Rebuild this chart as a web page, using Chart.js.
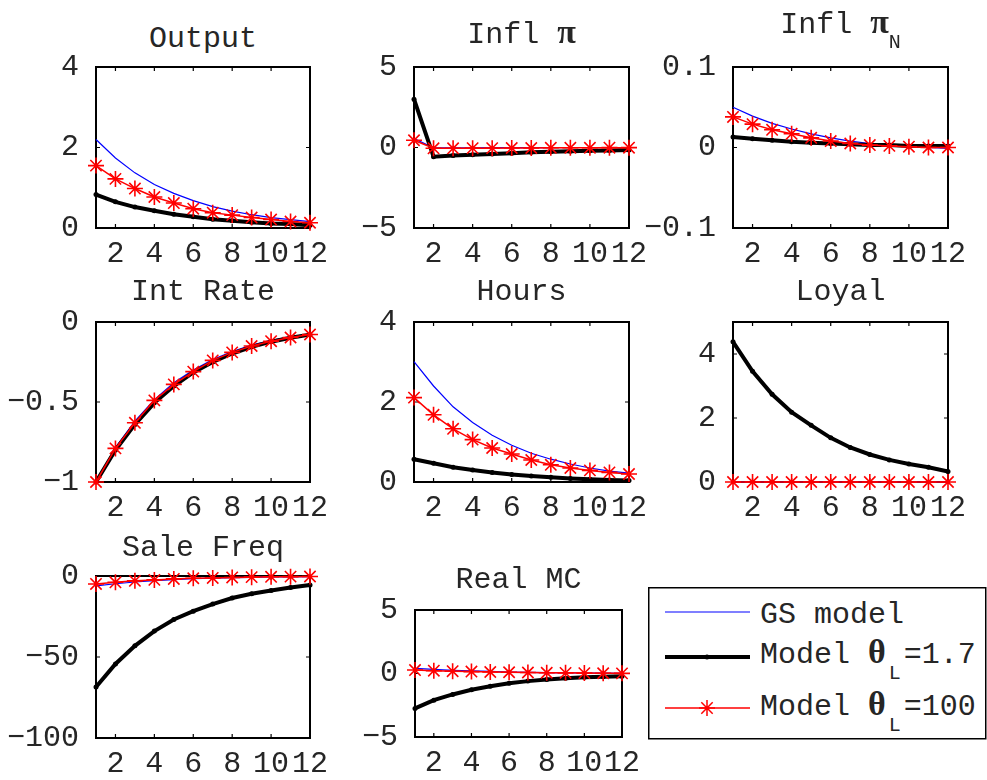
<!DOCTYPE html>
<html>
<head>
<meta charset="utf-8">
<script src="https://cdn.jsdelivr.net/npm/chart.js@4"></script>
<style>
  body { margin: 0; background: #fff; }
  #wrap { position: relative; width: 987px; height: 780px; overflow: hidden;
          font-family: 'Liberation Mono', monospace; color: #262626; }
  canvas { position: absolute; }
  .ttl { position: absolute; width: 400px; text-align: center; font-size: 30px;
         line-height: 30px; white-space: pre; }
  .gk { font-family: 'Liberation Serif', serif; font-weight: bold; font-size: 34px; }
  .sub { font-size: 20px; position: relative; top: 15px; }
  #legend { position: absolute; left: 648px; top: 587px; }
</style>
</head>
<body>
<div id="wrap">
  <svg id="legend" width="339" height="160">
    <rect x="0.75" y="0.75" width="337" height="151" fill="#fff" stroke="#000" stroke-width="1.5"/>
    <line x1="17" y1="25" x2="102" y2="25" stroke="#0000ff" stroke-width="1.2"/>
    <line x1="17" y1="70" x2="102" y2="70" stroke="#000" stroke-width="4"/>
    <circle cx="59" cy="70" r="2.5" fill="#000"/>
    <line x1="17" y1="121" x2="102" y2="121" stroke="#ff0000" stroke-width="1.5"/>
    <path d="M59 113V129M51 121H67M53.3 115.3L64.7 126.7M53.3 126.7L64.7 115.3" stroke="#ff0000" stroke-width="1.5"/>
    <g font-family="Liberation Mono, monospace" font-size="30" fill="#262626" style="white-space:pre">
      <text x="112" y="36">GS model</text>
      <text x="112" y="76">Model <tspan font-family="Liberation Serif, serif" font-weight="bold" font-size="34">θ</tspan><tspan font-size="20" dy="16" dx="3">L</tspan><tspan dy="-16" dx="3">=1.7</tspan></text>
      <text x="112" y="128">Model <tspan font-family="Liberation Serif, serif" font-weight="bold" font-size="34">θ</tspan><tspan font-size="20" dy="16" dx="3">L</tspan><tspan dy="-16" dx="3">=100</tspan></text>
    </g>
  </svg>
</div>
<script>
// horizon and ticks
const steps = [1, 2, 3, 4, 5, 6, 7, 8, 9, 10, 11, 12];
const xTicks = [2, 4, 6, 8, 10, 12];

// GS model / Model thetaL=1.7 / Model thetaL=100
const gsOutput   = [2.20, 1.74, 1.37, 1.08, 0.86, 0.68, 0.53, 0.42, 0.33, 0.26, 0.21, 0.16];
const m17Output  = [0.83, 0.65, 0.52, 0.43, 0.34, 0.28, 0.22, 0.18, 0.14, 0.11, 0.10, 0.07];
const m100Output = [1.55, 1.22, 0.98, 0.77, 0.62, 0.48, 0.38, 0.32, 0.26, 0.21, 0.16, 0.13];

const gsInfl   = [0.55, -0.02, -0.02, -0.02, -0.01, -0.01, -0.01, -0.01, 0, 0, 0, 0];
const m17Infl  = [3.0, -0.57, -0.50, -0.45, -0.40, -0.35, -0.30, -0.27, -0.23, -0.20, -0.18, -0.15];
const m100Infl = [0.45, -0.05, -0.05, -0.04, -0.04, -0.03, -0.03, -0.02, -0.02, -0.02, -0.01, -0.01];

const gsInflN   = [0.050, 0.039, 0.030, 0.023, 0.017, 0.012, 0.008, 0.005, 0.003, 0.001, 0.000, -0.001];
const m17InflN  = [0.013, 0.011, 0.009, 0.007, 0.006, 0.005, 0.004, 0.003, 0.003, 0.002, 0.002, 0.002];
const m100InflN = [0.038, 0.029, 0.022, 0.017, 0.012, 0.008, 0.005, 0.003, 0.002, 0.001, 0.000, 0.000];

const gsRate   = [-1, -0.785, -0.62, -0.485, -0.38, -0.30, -0.235, -0.185, -0.145, -0.115, -0.092, -0.074];
const m17Rate  = [-1, -0.80, -0.64, -0.505, -0.40, -0.315, -0.25, -0.197, -0.155, -0.123, -0.098, -0.079];
const m100Rate = [-1, -0.79, -0.63, -0.49, -0.39, -0.31, -0.24, -0.19, -0.15, -0.12, -0.097, -0.078];

const gsHours   = [3.01, 2.40, 1.88, 1.49, 1.17, 0.92, 0.72, 0.57, 0.45, 0.35, 0.27, 0.22];
const m17Hours  = [0.57, 0.47, 0.37, 0.30, 0.24, 0.19, 0.15, 0.12, 0.09, 0.07, 0.05, 0.04];
const m100Hours = [2.11, 1.68, 1.33, 1.06, 0.85, 0.70, 0.55, 0.43, 0.35, 0.29, 0.24, 0.20];

const gsLoyal   = [0, 0, 0, 0, 0, 0, 0, 0, 0, 0, 0, 0];
const m17Loyal  = [4.38, 3.46, 2.74, 2.18, 1.77, 1.38, 1.08, 0.86, 0.69, 0.56, 0.46, 0.33];
const m100Loyal = [0, 0, 0, 0, 0, 0, 0, 0, 0, 0, 0, 0];

const gsSale   = [-6.1, -4.8, -3.7, -2.9, -2.2, -1.7, -1.3, -1.0, -0.8, -0.6, -0.5, -0.4];
const m17Sale  = [-68.5, -54.3, -43.1, -34.0, -26.8, -21.7, -17.3, -13.6, -11.0, -8.9, -7.1, -5.5];
const m100Sale = [-4.9, -3.9, -3.0, -2.4, -1.8, -1.4, -1.2, -0.9, -0.7, -0.5, -0.4, -0.3];

const gsMC   = [0.40, 0.32, 0.25, 0.20, 0.16, 0.12, 0.09, 0.07, 0.05, 0.04, 0.03, 0.02];
const m17MC  = [-2.75, -2.10, -1.65, -1.28, -1.00, -0.76, -0.60, -0.48, -0.37, -0.30, -0.25, -0.22];
const m100MC = [0.27, 0.22, 0.18, 0.15, 0.12, 0.10, 0.08, 0.06, 0.05, 0.03, 0.02, 0.01];

// box = [left, top, right, bottom] of the plot area
const panels = [
  { title: 'Output', titleTop: 24, box: [96, 65, 310, 228], y: [0, 4], yTicks: [0, 2, 4], gs: gsOutput, m17: m17Output, m100: m100Output },
  { title: 'Infl <span class="gk">π</span>', titleTop: 17, box: [414, 65, 629, 228], y: [-5, 5], yTicks: [-5, 0, 5], gs: gsInfl, m17: m17Infl, m100: m100Infl },
  { title: 'Infl <span class="gk">π</span><span class="sub">N</span>', titleTop: 7, box: [733, 65, 948, 228], y: [-0.1, 0.1], yTicks: [-0.1, 0, 0.1], gs: gsInflN, m17: m17InflN, m100: m100InflN },
  { title: 'Int Rate', titleTop: 277, box: [96, 320, 310, 482], y: [-1, 0], yTicks: [-1, -0.5, 0], gs: gsRate, m17: m17Rate, m100: m100Rate },
  { title: 'Hours', titleTop: 277, box: [414, 320, 629, 482], y: [0, 4], yTicks: [0, 2, 4], gs: gsHours, m17: m17Hours, m100: m100Hours },
  { title: 'Loyal', titleTop: 277, box: [733, 320, 948, 482], y: [0, 5], yTicks: [0, 2, 4], gs: gsLoyal, m17: m17Loyal, m100: m100Loyal },
  { title: 'Sale Freq', titleTop: 533, box: [96, 574, 310, 738], y: [-100, 0], yTicks: [-100, -50, 0], gs: gsSale, m17: m17Sale, m100: m100Sale },
  { title: 'Real MC', titleTop: 565, box: [415, 608, 622, 737], y: [-5, 5], yTicks: [-5, 0, 5], gs: gsMC, m17: m17MC, m100: m100MC }
];

const padL = 100, padT = 25, padR = 30, padB = 50;
const tickFont = { family: "'Liberation Mono', monospace", size: 30 };
const textColor = '#262626';

// matlab style box with ticks pointing inwards
const boxTicks = {
  id: 'boxTicks',
  beforeDatasetsDraw(chart) {
    const { ctx, chartArea: a, scales } = chart;
    ctx.save();
    ctx.strokeStyle = '#000';
    ctx.lineWidth = 2;
    ctx.strokeRect(a.left, a.top, a.right - a.left, a.bottom - a.top);
    ctx.lineWidth = 1.2;
    ctx.beginPath();
    scales.x.ticks.forEach(t => {
      const px = scales.x.getPixelForValue(t.value);
      ctx.moveTo(px, a.bottom); ctx.lineTo(px, a.bottom - 4);
      ctx.moveTo(px, a.top); ctx.lineTo(px, a.top + 4);
    });
    scales.y.ticks.forEach(t => {
      const py = scales.y.getPixelForValue(t.value);
      ctx.moveTo(a.left, py); ctx.lineTo(a.left + 4, py);
      ctx.moveTo(a.right, py); ctx.lineTo(a.right - 4, py);
    });
    ctx.stroke();
    ctx.restore();
  }
};

const wrap = document.getElementById('wrap');

panels.forEach(p => {
  const [L, T, R, B] = p.box;
  const w = R - L + padL + padR;
  const h = B - T + padT + padB;

  const ttl = document.createElement('div');
  ttl.className = 'ttl';
  ttl.innerHTML = p.title;
  ttl.style.left = ((L + R) / 2 - 200) + 'px';
  ttl.style.top = p.titleTop + 'px';
  wrap.appendChild(ttl);

  const cv = document.createElement('canvas');
  cv.width = w; cv.height = h;
  cv.style.left = (L - padL) + 'px';
  cv.style.top = (T - padT) + 'px';
  wrap.appendChild(cv);

  new Chart(cv.getContext('2d'), {
    type: 'line',
    data: {
      labels: steps,
      datasets: [
        {
          label: 'GS model',
          data: steps.map((s, i) => ({ x: s, y: p.gs[i] })),
          borderColor: '#0000ff',
          borderWidth: 1.2,
          pointRadius: 0,
          order: 3,
          clip: false
        },
        {
          label: 'Model θL=1.7',
          data: steps.map((s, i) => ({ x: s, y: p.m17[i] })),
          borderColor: '#000',
          backgroundColor: '#000',
          borderWidth: 4,
          pointRadius: 2.5,
          pointBorderWidth: 0,
          order: 2,
          clip: false
        },
        {
          label: 'Model θL=100',
          data: steps.map((s, i) => ({ x: s, y: p.m100[i] })),
          borderColor: '#ff0000',
          backgroundColor: '#ff0000',
          borderWidth: 1.5,
          pointStyle: 'star',
          pointRadius: 8,
          pointBorderWidth: 1.6,
          order: 1,
          clip: false
        }
      ]
    },
    options: {
      responsive: false,
      animation: false,
      layout: { padding: { left: 0, top: padT, right: padR, bottom: 0 } },
      plugins: { legend: { display: false }, tooltip: { enabled: false } },
      scales: {
        x: {
          type: 'linear',
          min: 1,
          max: 12,
          afterBuildTicks: s => { s.ticks = xTicks.map(v => ({ value: v })); },
          afterFit: s => { s.height = padB; },
          grid: { display: false },
          border: { display: false },
          ticks: { font: tickFont, color: textColor, padding: 0, maxRotation: 0, autoSkip: false }
        },
        y: {
          min: p.y[0],
          max: p.y[1],
          afterBuildTicks: s => { s.ticks = p.yTicks.map(v => ({ value: v })); },
          afterFit: s => { s.width = padL; },
          grid: { display: false },
          border: { display: false },
          ticks: {
            font: tickFont, color: textColor, padding: 9, autoSkip: false,
            callback: v => String(v).replace('-', '\u2212')
          }
        }
      }
    },
    plugins: [boxTicks]
  });
});
</script>
</body>
</html>
